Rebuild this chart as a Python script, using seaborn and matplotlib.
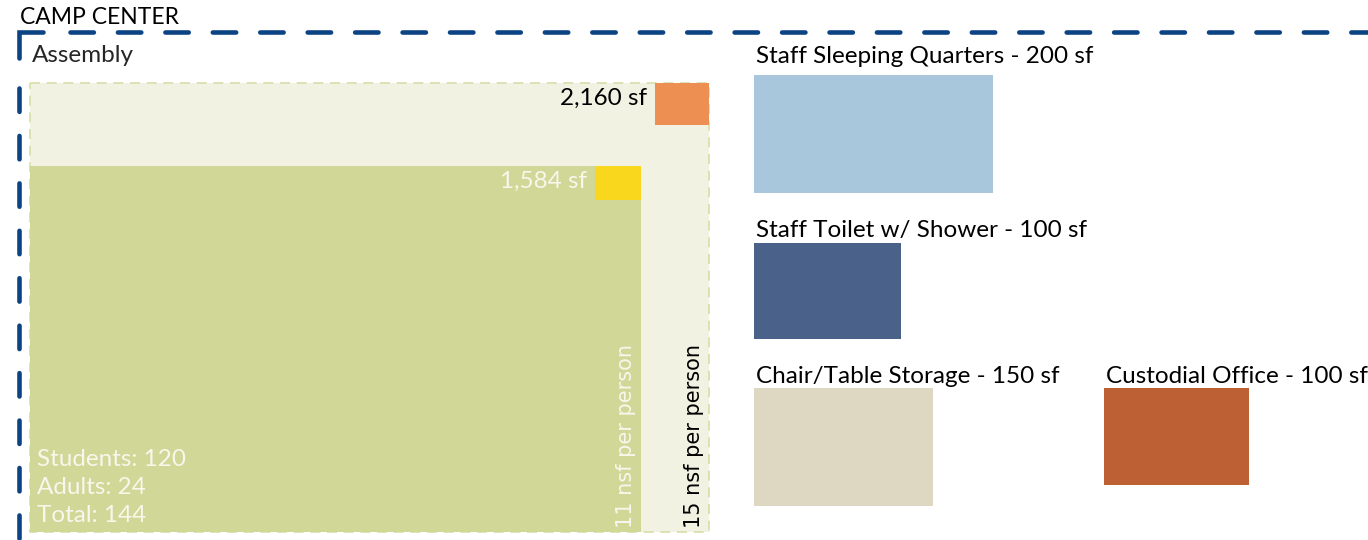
import numpy as np
import matplotlib
matplotlib.use("Agg")
import matplotlib.pyplot as plt
import seaborn as sns

# Data
group_title = "CAMP CENTER"
room_names = ["Staff Sleeping Quarters", "Staff Toilet w/ Shower",
              "Chair/Table Storage", "Custodial Office"]
room_sf = [200, 100, 150, 100]

assembly_title = "Assembly"
assembly_sf = [2160, 1584]          # outer (15 nsf) and inner (11 nsf) program
nsf_per_person = [15, 11]
occupant_groups = ["Students", "Adults", "Total"]
occupant_counts = [120, 24, 144]

# Layout (pixel space, y downward)
PX_PER_SF = 141.0
room_aspect = [2.025, 1.526, 1.521, 1.50]
room_left = [754, 754, 754, 1104]
room_top = [75, 243, 388, 388]
label_base = [63, 237, 383, 383]
room_colors = ["#A9C7DC", "#4A6289", "#DED8C3", "#BD6135"]

asm_aspect = [1.512, 1.669]
asm_left = 30
asm_bottom = 532
asm_fill = ["#F2F2E3", "#D0D797"]
marker_colors = ["#ED8F52", "#F9D71C"]
marker_size = [(54, 42), (46, 34)]
navy = "#0B4383"
LW = 3.3


def box_size(area, aspect):
    px = area * PX_PER_SF
    return np.sqrt(px * aspect), np.sqrt(px / aspect)


sns.set_theme(style="white")
plt.rcParams["font.family"] = ["Lato", "DejaVu Sans"]

fig = plt.figure(figsize=(13.68, 5.4), dpi=100)
ax = fig.add_axes([0, 0, 1, 1])
ax.set_xlim(0, 1368)
ax.set_ylim(540, 0)
ax.axis("off")

# camp center dashed boundary
dash = (0, (5.1, 5.25))
ax.plot([19, 19, 43], [58, 32, 32], color=navy, lw=LW,
        solid_capstyle="round", solid_joinstyle="miter")
ax.plot([69.5, 1400], [32, 32], color=navy, lw=LW,
        dash_capstyle="round", linestyle=dash)
ax.plot([19, 19], [87.5, 560], color=navy, lw=LW,
        dash_capstyle="round", linestyle=dash)
ax.text(20, 17, group_title, fontsize=16.5, va="center", ha="left", color="black")

# assembly boxes
ax.text(32, 56, assembly_title, fontsize=17.5, va="center", ha="left")
sizes = [box_size(a, r) for a, r in zip(assembly_sf, asm_aspect)]
for i, ((w, h), area) in enumerate(zip(sizes, assembly_sf)):
    top = asm_bottom - h
    if i == 0:
        ax.bar(asm_left, h, width=w, bottom=top, align="edge", color=asm_fill[i],
               edgecolor="#D8DEA9", linewidth=1.2, linestyle=(0, (6, 4)), zorder=1)
    else:
        ax.bar(asm_left, h, width=w, bottom=top, align="edge", color=asm_fill[i],
               linewidth=0, zorder=2)
    mw, mh = marker_size[i]
    ax.bar(asm_left + w - mw, mh, width=mw, bottom=top, align="edge",
           color=marker_colors[i], linewidth=0, zorder=3)
    tcol = "black" if i == 0 else "#F7F7EC"
    ax.text(asm_left + w - mw - 8, top + 15, f"{area:,} sf",
            fontsize=17.5, ha="right", va="center", color=tcol, zorder=4)
    ax.text(asm_left + w - 15, asm_bottom - 4,
            f"{nsf_per_person[i]} nsf per person", rotation=90,
            fontsize=15, ha="center", va="bottom", color=tcol,
            family=["DejaVu Sans"], zorder=4)

for j, (g, c) in enumerate(zip(occupant_groups, occupant_counts)):
    ax.text(37, 459 + 28.5 * j, f"{g}: {c}", fontsize=17.5, ha="left",
            va="center", color="#F7F7EC", zorder=4)

# support rooms
for name, area, asp, x, y, yb, col in zip(room_names, room_sf, room_aspect,
                                          room_left, room_top, label_base,
                                          room_colors):
    w, h = box_size(area, asp)
    ax.bar(x, h, width=w, bottom=y, align="edge", color=col, linewidth=0)
    ax.text(x + 2, yb, f"{name} - {area} sf", fontsize=17.5,
            ha="left", va="baseline", color="black")

fig.savefig("out.png", dpi=100)
